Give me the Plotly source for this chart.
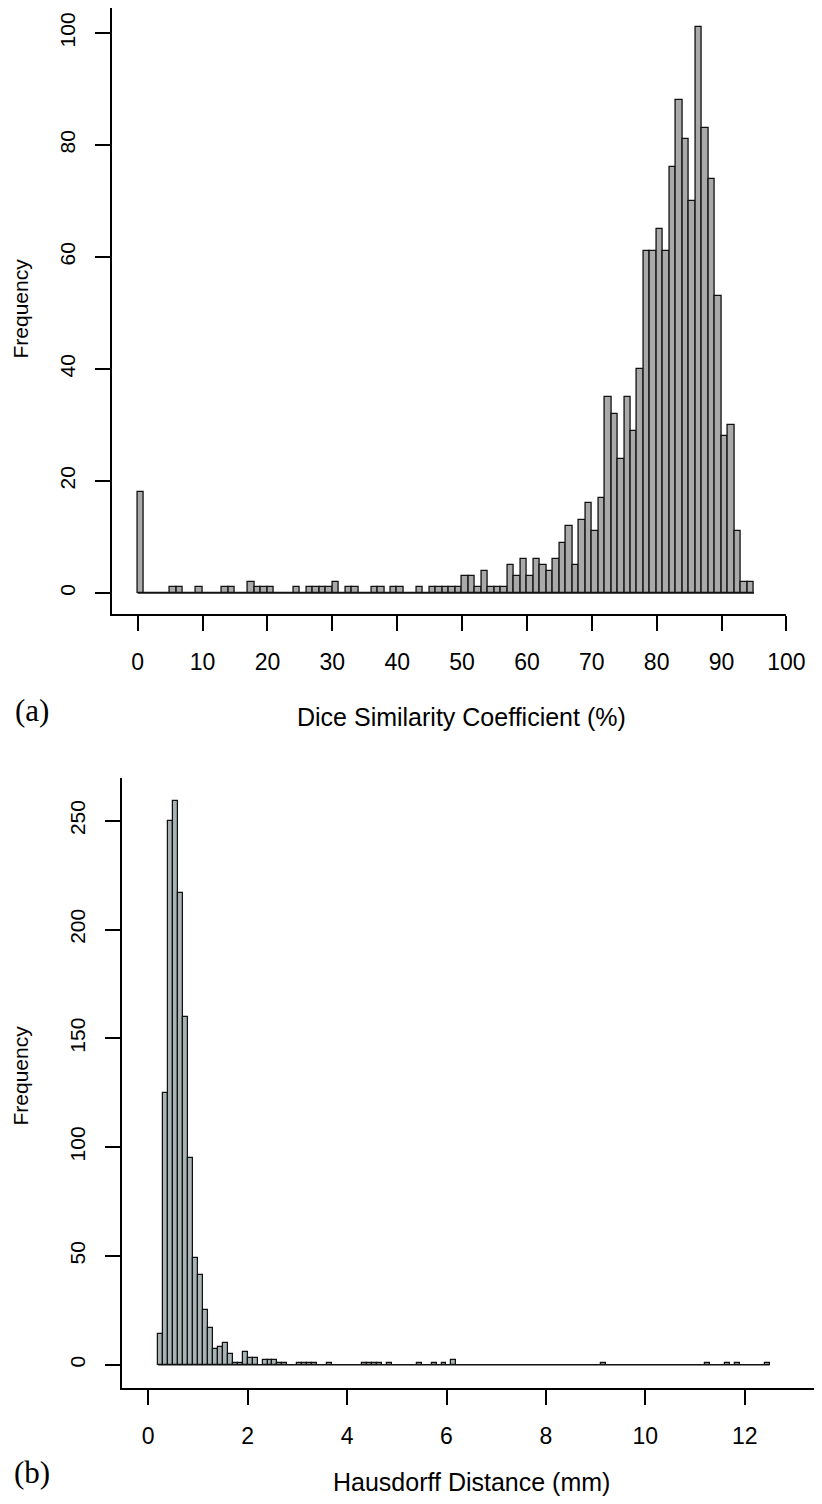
import plotly.graph_objects as go

# ---------------- data ----------------
# (a) Dice similarity coefficient histogram, bins of width 1 starting at 0
dice_bin_start = 0
dice_bin_width = 1
dice_counts = [18, 0, 0, 0, 0, 1, 1, 0, 0, 1,
               0, 0, 0, 1, 1, 0, 0, 2, 1, 1,
               1, 0, 0, 0, 1, 0, 1, 1, 1, 1,
               2, 0, 1, 1, 0, 0, 1, 1, 0, 1,
               1, 0, 0, 1, 0, 1, 1, 1, 1, 1,
               3, 3, 1, 4, 1, 1, 1, 5, 3, 6,
               3, 6, 5, 4, 6, 9, 12, 5, 13, 16,
               11, 17, 35, 32, 24, 35, 29, 40, 61, 61,
               65, 61, 76, 88, 81, 70, 101, 83, 74, 53,
               28, 30, 11, 2, 2]
dice_xticks = [0, 10, 20, 30, 40, 50, 60, 70, 80, 90, 100]
dice_yticks = [0, 20, 40, 60, 80, 100]

# (b) Hausdorff distance histogram, bins of width 0.1 from 0.2 to 12.5 (non-zero bins listed)
hd_break_first = 0.2
hd_break_last = 12.5
hd_bin_width = 0.1
hd_bin_left = [0.2, 0.3, 0.4, 0.5, 0.6, 0.7, 0.8, 0.9, 1.0, 1.1,
               1.2, 1.3, 1.4, 1.5, 1.6, 1.7, 1.8, 1.9, 2.0, 2.1,
               2.3, 2.4, 2.5, 2.6, 2.7, 3.0, 3.1, 3.2, 3.3, 3.6,
               4.3, 4.4, 4.5, 4.6, 4.8, 5.4, 5.7, 5.9, 6.1, 9.1,
               11.2, 11.6, 11.8, 12.4]
hd_counts = [14, 125, 250, 259, 217, 160, 95, 49, 41, 25,
             17, 7, 8, 10, 5, 1, 1, 6, 3, 3,
             2, 2, 2, 1, 1, 1, 1, 1, 1, 1,
             1, 1, 1, 1, 1, 1, 1, 1, 2, 1,
             1, 1, 1, 1]
hd_xticks = [0, 2, 4, 6, 8, 10, 12]
hd_yticks = [0, 50, 100, 150, 200, 250]

# ---------------- figure geometry ----------------
PAGE_H = 1504
OFF = 8          # default body margin of the html page
SX = 0.9767      # observed horizontal scale of the captured page
VIEW_W = 822 / SX
W = int(VIEW_W - 2 * OFF)
H = PAGE_H - 2 * OFF
SANS = "Liberation Sans, Arial, sans-serif"
SERIF = "Liberation Serif, Times New Roman, serif"


def px2x(px):
    """picture x (px) -> paper fraction"""
    return min(1.0, max(0.0, (px / SX - OFF) / W))


def py2y(py):
    """picture y (px) -> paper fraction"""
    return min(1.0, max(0.0, 1 - (py - OFF) / H))


dice_x = [dice_bin_start + dice_bin_width * (i + 0.5) for i in range(len(dice_counts))]
dice_end = dice_bin_start + dice_bin_width * len(dice_counts)
hd_x = [b + hd_bin_width / 2 for b in hd_bin_left]

fig = go.Figure()
fig.add_trace(go.Scatter(x=[dice_bin_start, dice_end], y=[0, 0], mode="lines",
                         line=dict(color="#111", width=1.4), xaxis="x", yaxis="y",
                         hoverinfo="skip", showlegend=False))
fig.add_trace(go.Bar(x=dice_x, y=dice_counts, width=dice_bin_width,
                     marker=dict(color="#a9a9a9", line=dict(color="#111", width=1.3)),
                     xaxis="x", yaxis="y", showlegend=False))
fig.add_trace(go.Scatter(x=[hd_break_first, hd_break_last], y=[0, 0], mode="lines",
                         line=dict(color="#111", width=1.4), xaxis="x2", yaxis="y2",
                         hoverinfo="skip", showlegend=False))
fig.add_trace(go.Bar(x=hd_x, y=hd_counts, width=hd_bin_width,
                     marker=dict(color="#a8b4b4", line=dict(color="#111", width=1.25)),
                     xaxis="x2", yaxis="y2", showlegend=False))

axis_common = dict(showline=True, linecolor="black", linewidth=1.5, mirror=False,
                   showgrid=False, zeroline=False, ticks="outside", ticklen=15,
                   tickwidth=1.5, tickcolor="black", fixedrange=True)

# picture coordinates
top_y0, top_ypx = 593.0, 5.6       # value 0 at y=593, 5.6 px per count
top_x0, top_xpx = 137.5, 6.485     # value 0 at x=137.5, 6.485 px per %
bot_y0, bot_ypx = 1364.7, 2.176
bot_x0, bot_xpx = 148.0, 49.7

t_left, t_right, t_top, t_bot = 111.5, 786.0, 8.0, 614.0
b_left, b_right, b_top, b_bot = 121.8, (OFF + W) * SX, 778.0, 1388.0

fig.update_layout(
    width=W, height=H, margin=dict(l=0, r=0, t=0, b=0), autosize=False,
    paper_bgcolor="white", plot_bgcolor="white", bargap=0,
    xaxis=dict(domain=[px2x(t_left), px2x(t_right)], anchor="y",
               range=[(t_left - top_x0) / top_xpx, (t_right - top_x0) / top_xpx],
               tickvals=dice_xticks, ticklabelstandoff=12,
               tickfont=dict(family=SANS, size=23, color="black"), **axis_common),
    yaxis=dict(domain=[py2y(t_bot), py2y(t_top)], anchor="x",
               range=[(top_y0 - t_bot) / top_ypx, (top_y0 - t_top) / top_ypx],
               tickvals=dice_yticks, tickangle=-90, ticklabelstandoff=12,
               tickfont=dict(family=SANS, size=21, color="black"), **axis_common),
    xaxis2=dict(domain=[px2x(b_left), px2x(b_right)], anchor="y2",
                range=[(b_left - bot_x0) / bot_xpx, (b_right - bot_x0) / bot_xpx],
                tickvals=hd_xticks, ticklabelstandoff=12,
                tickfont=dict(family=SANS, size=23, color="black"), **axis_common),
    yaxis2=dict(domain=[py2y(b_bot), py2y(b_top)], anchor="x2",
                range=[(bot_y0 - b_bot) / bot_ypx, (bot_y0 - b_top) / bot_ypx],
                tickvals=hd_yticks, tickangle=-90, ticklabelstandoff=12,
                tickfont=dict(family=SANS, size=21, color="black"), **axis_common),
)

annos = [
    dict(text="Frequency", x=0, y=py2y(309), textangle=-90, xanchor="left", yanchor="middle",
         xshift=-2, font=dict(family=SANS, size=21, color="black")),
    dict(text="Dice Similarity Coefficient (%)", x=px2x(461), y=py2y(717),
         xanchor="center", yanchor="middle",
         font=dict(family=SANS, size=25, color="black")),
    dict(text="(a)", x=px2x(32), y=py2y(710), xanchor="center", yanchor="middle",
         font=dict(family=SERIF, size=31, color="black")),
    dict(text="Frequency", x=0, y=py2y(1076), textangle=-90, xanchor="left", yanchor="middle",
         xshift=-2, font=dict(family=SANS, size=21, color="black")),
    dict(text="Hausdorff Distance (mm)", x=px2x(471), y=0, xanchor="center", yanchor="bottom",
         yshift=-2, font=dict(family=SANS, size=25, color="black")),
    dict(text="(b)", x=px2x(32), y=0, xanchor="center", yanchor="bottom", yshift=4,
         font=dict(family=SERIF, size=31, color="black")),
]
for a in annos:
    fig.add_annotation(xref="paper", yref="paper", showarrow=False, **a)

fig.write_html("out.html")
